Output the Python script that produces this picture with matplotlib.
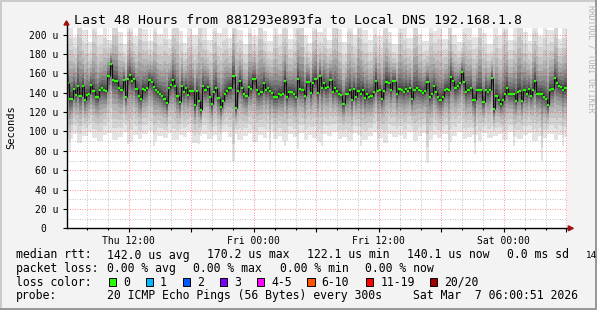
import numpy as np
import matplotlib.pyplot as plt
from matplotlib.patches import Polygon, Rectangle
from matplotlib.ticker import FixedLocator

plt.rcParams['font.family'] = ['DejaVu Sans Mono', 'DejaVu Sans']

# median rtt per step (microseconds), read left to right
median_us = [
    150, 134, 134, 144, 138, 147, 137, 147, 133, 138, 139, 148, 142, 136, 136, 143, 145, 143, 142, 157,
    170, 153, 152, 152, 145, 143, 153, 136, 154, 158, 152, 154, 144, 137, 134, 144, 143, 145, 153, 151,
    146, 143, 141, 139, 137, 134, 129, 145, 148, 153, 147, 137, 130, 147, 141, 145, 138, 142, 142, 127,
    142, 132, 122, 147, 143, 146, 136, 128, 141, 145, 135, 125, 132, 139, 142, 145, 145, 157, 124, 142,
    152, 145, 139, 137, 146, 144, 154, 154, 143, 139, 141, 150, 143, 145, 142, 140, 136, 136, 139, 138,
    139, 152, 136, 141, 141, 139, 136, 154, 144, 143, 137,
    151, 151, 140, 150, 154, 140, 157, 145, 150, 145, 146, 153, 141, 145, 142, 139, 138, 128, 139, 139,
    143, 133, 144, 136, 142, 139, 143, 135, 139, 136, 137, 141, 152, 142, 143, 134, 142, 151, 150, 143,
    152, 152, 139, 144, 143, 141, 144, 142, 145, 134, 143, 145, 143, 142, 140, 142, 151, 136, 139, 147,
    141, 136, 133, 136, 143, 144, 143, 156, 152, 145, 147, 150, 161, 151, 141, 143, 145, 133, 133, 143,
    143, 143, 130, 143, 141, 143, 155, 123, 137, 133, 128, 133, 139, 145, 139, 139, 139, 132, 141, 142,
    132, 143, 139, 144, 137, 143, 152, 139, 139, 139, 136, 134, 127, 143, 144, 155, 150, 147, 146, 143,
    145,
]

# fastest / slowest ping, in 100 blocks across the 48 hours
smoke_floor = [92, 97, 88, 95, 99, 93, 90, 96, 98, 91, 94, 99, 89, 96, 92, 97, 100, 90, 95, 93,
               98, 91, 96, 94, 99, 88, 95, 97, 92, 96, 90, 99, 94, 97, 91, 95, 98, 89, 96, 93,
               99, 92, 95, 90, 97, 94, 98, 91, 96, 93, 89, 97, 95, 99, 92, 94, 90, 98, 96, 91,
               95, 99, 93, 88, 97, 94, 96, 92, 99, 90, 95, 98, 91, 96, 93, 97, 89, 95, 99, 92,
               94, 96, 90, 98, 93, 95, 97, 91, 99, 94, 92, 96, 98, 90, 95, 93, 97, 91, 96, 94]
smoke_ceiling = [212, 198, 230, 205, 192, 220, 200, 210, 195, 225, 203, 190, 215, 199, 228, 206, 193, 218, 201, 211,
                 196, 224, 204, 191, 213, 200, 232, 207, 194, 219, 202, 209, 197, 226, 205, 190, 216, 199, 227, 204,
                 193, 214, 201, 222, 196, 208, 231, 200, 191, 217, 203, 210, 195, 225, 206, 192, 219, 200, 228, 205,
                 194, 213, 199, 221, 203, 190, 216, 208, 197, 229, 201, 193, 218, 204, 211, 196, 224, 200, 192, 215,
                 207, 198, 226, 202, 190, 214, 200, 220, 195, 209, 230, 203, 193, 217, 199, 212, 205, 222, 196, 210]
# single steps where the fastest ping dropped much lower
deep_streaks = {1: 79, 6: 88, 28: 87, 40: 85, 61: 87, 77: 70, 94: 81, 101: 85, 107: 82, 118: 85,
                136: 85, 144: 80, 167: 67, 177: 78, 189: 77, 207: 85, 220: 70, 230: 85}

loss_labels = ['0', '1', '2', '3', '4-5', '6-10', '11-19', '20/20']
loss_colors = ['#26ff00', '#00b8ff', '#0059ff', '#7e00ff', '#ff00fe', '#ff5500', '#ff0000', '#a10000']

hours = 48
start_offset = 51 / 3600.0          # graph starts Thu 06:00:51
x_labels = {6: 'Thu 12:00', 18: 'Fri 00:00', 30: 'Fri 12:00', 42: 'Sat 00:00'}

W, H = 597, 310
fig = plt.figure(figsize=(W / 100, H / 100), dpi=100, facecolor='#f3f3f3')

def fx(x):
    return x / W

def fy(y):
    return 1 - y / H

ax_l, ax_r, ax_t, ax_b = 66.5, 566.5, 27.7, 228.3
ax = fig.add_axes([fx(ax_l), fy(ax_b), (ax_r - ax_l) / W, (ax_b - ax_t) / H])
ax.set_facecolor('white')

med = np.array(median_us, dtype=float)
n = len(med)
edges = np.linspace(0, hours, n + 1)
block = (np.arange(n) * len(smoke_floor)) // n
lo = np.array(smoke_floor, dtype=float)[block]
hi = np.array(smoke_ceiling, dtype=float)[block]
for i, v in deep_streaks.items():
    lo[i] = v

# smoke: outer (light) to inner (dark)
fracs = [1.0, 0.8, 0.64, 0.5, 0.39, 0.3, 0.22, 0.15, 0.09, 0.04]
greys = ['#e4e4e4', '#d4d4d4', '#c4c4c4', '#b4b4b4', '#a2a2a2',
         '#909090', '#7c7c7c', '#686868', '#545454', '#404040']
for q, c in zip(fracs, greys):
    bot = med - (med - lo) * q
    top = med + (hi - med) * q
    ax.fill_between(edges, np.append(bot, bot[-1]), np.append(top, top[-1]),
                    step='post', color=c, lw=0, zorder=1)

# median: black steps, green (0 % loss) levels
ax.vlines(edges[1:-1], med[:-1], med[1:], color='#111111', lw=0.8, zorder=4)
ax.hlines(med, edges[:-1], edges[1:], color=loss_colors[0], lw=1.6, zorder=5)

ax.set_xlim(0, hours)
ax.set_ylim(0, 207.2)

major_x = np.arange(6, 49, 6) - start_offset
minor_x = np.arange(2, 49, 2) - start_offset
ax.xaxis.set_major_locator(FixedLocator(major_x))
ax.xaxis.set_minor_locator(FixedLocator(minor_x))
ax.set_xticklabels([x_labels.get(int(round(v + start_offset)), '') for v in major_x])
ax.yaxis.set_major_locator(FixedLocator(np.arange(0, 201, 20)))
ax.yaxis.set_minor_locator(FixedLocator(np.arange(10, 201, 20)))
ax.set_yticklabels(['0  '] + ['%d u' % v for v in range(20, 201, 20)])

ax.tick_params(axis='both', which='major', labelsize=7, length=3, width=0.8, color='black')
ax.tick_params(axis='x', which='major', pad=2.5)
ax.tick_params(axis='y', which='major', pad=2.5)
ax.tick_params(axis='x', which='minor', length=1.5, width=0.8)
ax.tick_params(axis='y', which='minor', length=0)

ax.set_axisbelow(False)
ax.grid(which='major', color='#ff0000', alpha=0.4, lw=0.72, ls=(0, (1, 1.5)), zorder=3)
ax.grid(which='minor', color='#707070', alpha=0.4, lw=0.72, ls=(0, (1, 1.5)), zorder=3)

for s in ax.spines.values():
    s.set_visible(False)

# axes with arrows
ax.plot([0, 1.004], [0, 0], transform=ax.transAxes, color='black', lw=1.0, clip_on=False, zorder=6)
ax.plot([0, 0], [0, 1.014], transform=ax.transAxes, color='black', lw=1.0, clip_on=False, zorder=6)
ax.add_patch(Polygon([[1.0036, -0.012], [1.0036, 0.012], [1.0136, 0]], closed=True,
                     transform=ax.transAxes, color='#a01010', clip_on=False, zorder=7))
ax.add_patch(Polygon([[-0.005, 1.0135], [0.005, 1.0135], [0, 1.034]], closed=True,
                     transform=ax.transAxes, color='#a01010', clip_on=False, zorder=7))

fig.text(fx(297.5), fy(24), 'Last 48 Hours from 881293e893fa to Local DNS 192.168.1.8',
         ha='center', va='baseline', fontsize=9.5)
fig.text(fx(11), fy(127), 'Seconds', rotation=90, ha='center', va='center', fontsize=7.5)
fig.text(fx(591), fy(5), 'RRDTOOL / TOBI OETIKER', rotation=270, ha='center', va='top',
         fontsize=5.9, color='#b4b4b4')

lg = 8.3
rows = [258.5, 272, 285.7, 299.3]
fig.text(fx(16), fy(rows[0]), 'median rtt:', fontsize=lg, va='baseline')
for x, s in zip([107.3, 207.3, 307.3, 407.3, 507.3],
                ['142.0 us avg', '170.2 us max', '122.1 us min', '140.1 us now', '0.0 ms sd']):
    fig.text(fx(x), fy(rows[0]), s, fontsize=lg, va='baseline')
# the last field runs past the canvas edge in the original; only its first digits show
fig.text(fx(586), fy(rows[0]), '14', fontsize=lg * 0.8, va='baseline')

fig.text(fx(16), fy(rows[1]), 'packet loss:', fontsize=lg, va='baseline')
for x, s in zip([107.3, 193.3, 280, 365.3],
                ['0.00 % avg', '0.00 % max', '0.00 % min', '0.00 % now']):
    fig.text(fx(x), fy(rows[1]), s, fontsize=lg, va='baseline')

fig.text(fx(16), fy(rows[2]), 'loss color:', fontsize=lg, va='baseline')
box_x = [109, 145.7, 182.7, 220, 256.7, 307.3, 366, 430]
for bx, lab, c in zip(box_x, loss_labels, loss_colors):
    fig.patches.append(Rectangle((fx(bx), fy(285.7)), 7.3 / W, 7.3 / H, transform=fig.transFigure,
                                 facecolor=c, edgecolor='black', lw=0.7))
    fig.text(fx(bx + 14.3), fy(rows[2]), lab, fontsize=lg, va='baseline')

fig.text(fx(16), fy(rows[3]), 'probe:', fontsize=lg, va='baseline')
fig.text(fx(107.3), fy(rows[3]), '20 ICMP Echo Pings (56 Bytes) every 300s', fontsize=lg, va='baseline')
fig.text(fx(413.3), fy(rows[3]), 'Sat Mar  7 06:00:51 2026', fontsize=lg, va='baseline')

# 3d frame of the canvas
for (x0, y0, w, h, c) in [(0, 0, 2, H, '#cbcbcb'), (0, 0, W, 2, '#cbcbcb'),
                          (W - 2, 0, 2, H, '#999999'), (0, H - 2.5, W, 2.5, '#999999')]:
    fig.patches.append(Rectangle((fx(x0), fy(y0 + h)), w / W, h / H, transform=fig.transFigure,
                                 facecolor=c, edgecolor='none'))

fig.savefig('out.png', dpi=100, facecolor=fig.get_facecolor())
